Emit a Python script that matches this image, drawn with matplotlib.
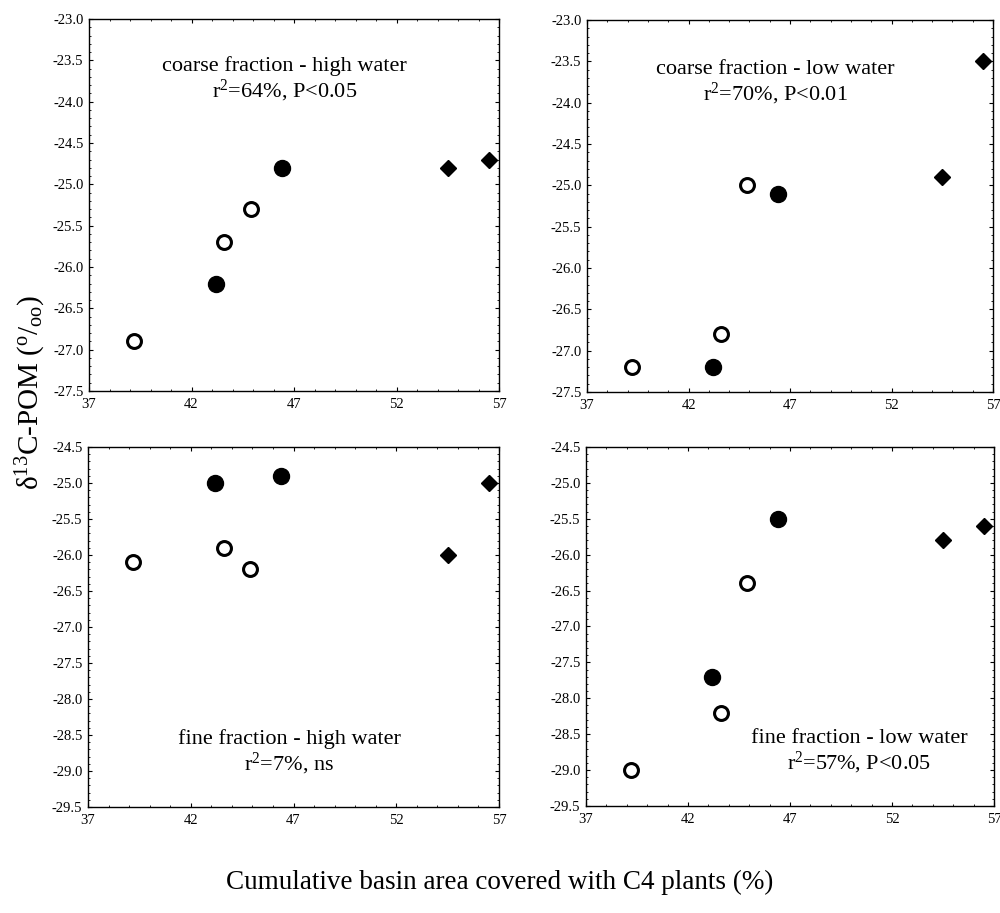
import matplotlib
matplotlib.use("Agg")
import matplotlib.pyplot as plt

plt.rcParams['font.family'] = ['Liberation Serif', 'DejaVu Serif']
plt.rcParams['mathtext.fontset'] = 'custom'
plt.rcParams['mathtext.rm'] = 'Liberation Serif'
plt.rcParams['mathtext.it'] = 'Liberation Serif:italic'
plt.rcParams['mathtext.bf'] = 'Liberation Serif:bold'

# x: cumulative basin area covered with C4 plants (%)
x_open = [39.2, 43.6, 44.9]
x_filled = [43.2, 46.4]
x_diamond = [54.5, 56.5]

# delta13C-POM values per panel
coarse_high_open = [-26.9, -25.7, -25.3]
coarse_high_filled = [-26.2, -24.8]
coarse_high_diamond = [-24.8, -24.7]

coarse_low_open = [-27.2, -26.8, -25.0]
coarse_low_filled = [-27.2, -25.1]
coarse_low_diamond = [-24.9, -23.5]

fine_high_open = [-26.1, -25.9, -26.2]
fine_high_filled = [-25.0, -24.9]
fine_high_diamond = [-26.0, -25.0]

fine_low_open = [-29.0, -28.2, -26.4]
fine_low_filled = [-27.7, -25.5]
fine_low_diamond = [-25.8, -25.6]

titles = ["coarse fraction - high water", "coarse fraction - low water",
          "fine fraction - high water", "fine fraction - low water"]
stats = ["r$^2$=64%, P<0.05", "r$^2$=70%, P<0.01",
         "r$^2$=7%, ns", "r$^2$=57%, P<0.05"]

x_ticks = [37, 42, 47, 52, 57]
y_ticks_coarse = [-27.5, -27.0, -26.5, -26.0, -25.5, -25.0, -24.5, -24.0, -23.5, -23.0]
y_ticks_fine = [-29.5, -29.0, -28.5, -28.0, -27.5, -27.0, -26.5, -26.0, -25.5, -25.0, -24.5]

panels = [
    (coarse_high_open, coarse_high_filled, coarse_high_diamond, y_ticks_coarse),
    (coarse_low_open, coarse_low_filled, coarse_low_diamond, y_ticks_coarse),
    (fine_high_open, fine_high_filled, fine_high_diamond, y_ticks_fine),
    (fine_low_open, fine_low_filled, fine_low_diamond, y_ticks_fine),
]

W, H = 1000, 913
fig = plt.figure(figsize=(10, 9.13), dpi=100)

boxes = [(89, 19, 499, 391), (587, 20, 993, 392),
         (88, 447, 499, 807), (586, 447, 994, 806)]
text_pos = [(0.476, 0.835), (0.463, 0.83), (0.49, 0.15), (0.67, 0.15)]

for i, (box, pdata) in enumerate(zip(boxes, panels)):
    l, t, r, b = box
    ax = fig.add_axes([l / W, 1 - b / H, (r - l) / W, (b - t) / H])
    yo, yf, yd, yt = pdata
    ax.plot(x_open, yo, 'o', ms=10, mfc='white', mec='black', mew=2.2, ls='none', zorder=3)
    ax.plot(x_filled, yf, 'o', ms=11.5, mfc='black', mec='black', ls='none', zorder=3)
    ax.plot(x_diamond, yd, 'D', ms=8, mfc='black', mec='black', ls='none', zorder=3)
    ax.set_xlim(37, 57)
    ax.set_ylim(yt[0], yt[-1])
    ax.set_xticks(x_ticks)
    ax.set_xticklabels([str(v) for v in x_ticks])
    ax.set_yticks(yt)
    ax.set_yticklabels([f"{v:.1f}" for v in yt])
    ax.set_xticks(range(37, 58), minor=True)
    ax.set_yticks([yt[0] + 0.1 * k for k in range(int(round((yt[-1] - yt[0]) / 0.1)) + 1)], minor=True)
    ax.tick_params(axis='both', which='major', direction='in', length=3, width=0.8,
                   labelsize=10.5, top=True, right=True)
    ax.tick_params(axis='x', which='major', pad=5)
    ax.tick_params(axis='y', which='major', pad=4)
    ax.tick_params(axis='both', which='minor', direction='in', length=1.5, width=0.6,
                   top=True, right=True)
    for s in ax.spines.values():
        s.set_linewidth(1.0)
    tx, ty = text_pos[i]
    ax.text(tx, ty, titles[i] + "\n" + stats[i], transform=ax.transAxes,
            ha='center', va='center', fontsize=16, linespacing=1.1)

fig.text(0.5, 1 - 882 / H, "Cumulative basin area covered with C4 plants (%)",
         ha='center', va='center', fontsize=19.5)
fig.text(0.031, 1 - 392 / H, "δ$^{13}$C-POM ($^{\\mathrm{o}}/_{\\mathrm{oo}}$)",
         ha='center', va='center', rotation=90, fontsize=21)

fig.savefig("out.png", dpi=100)
